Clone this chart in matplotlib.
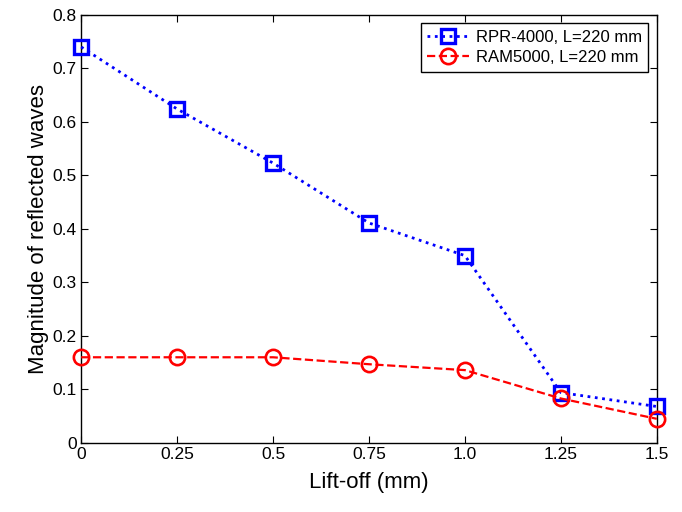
import matplotlib
matplotlib.use("Agg")
import matplotlib.pyplot as plt

liftoff = [0, 0.25, 0.5, 0.75, 1.0, 1.25, 1.5]
rpr4000 = [0.740, 0.624, 0.523, 0.411, 0.350, 0.094, 0.068]
ram5000 = [0.160, 0.160, 0.160, 0.147, 0.136, 0.083, 0.045]
xtick_labels = ["0", "0.25", "0.5", "0.75", "1.0", "1.25", "1.5"]
yticks = [0, 0.1, 0.2, 0.3, 0.4, 0.5, 0.6, 0.7, 0.8]
ytick_labels = ["0", "0.1", "0.2", "0.3", "0.4", "0.5", "0.6", "0.7", "0.8"]

plt.rcParams['font.family'] = ['Liberation Sans', 'DejaVu Sans']

fig = plt.figure(figsize=(6.82, 5.12), dpi=100)
ax = fig.add_axes([0.119, 0.135, 0.844, 0.836])

ax.plot(liftoff, rpr4000, color='#0000ff', linestyle=':', linewidth=2,
        marker='s', markersize=10, markerfacecolor='none', markeredgewidth=2.4,
        label='RPR-4000, L=220 mm', clip_on=False, zorder=3)
ax.plot(liftoff, ram5000, color='#ff0000', linestyle='--', linewidth=1.6,
        marker='o', markersize=11, markerfacecolor='none', markeredgewidth=1.9,
        label='RAM5000, L=220 mm', clip_on=False, zorder=3)

ax.set_xlim(0, 1.5)
ax.set_ylim(0, 0.8)
ax.set_xticks(liftoff)
ax.set_xticklabels(xtick_labels)
ax.set_yticks(yticks)
ax.set_yticklabels(ytick_labels)
ax.tick_params(direction='in', top=True, right=True, labelsize=12.5, length=5, pad=3)
for s in ax.spines.values():
    s.set_linewidth(1)

ax.set_xlabel('Lift-off (mm)', fontsize=16, labelpad=7)
ax.set_ylabel('Magnitude of reflected waves', fontsize=16, labelpad=3)

leg = ax.legend(loc='upper right', fontsize=12, fancybox=False, edgecolor='black',
                framealpha=1, handlelength=2.5, handletextpad=0.4,
                borderaxespad=0.5, borderpad=0.4, labelspacing=0.3)
leg.get_frame().set_linewidth(1)

fig.savefig('out.png', dpi=100)
